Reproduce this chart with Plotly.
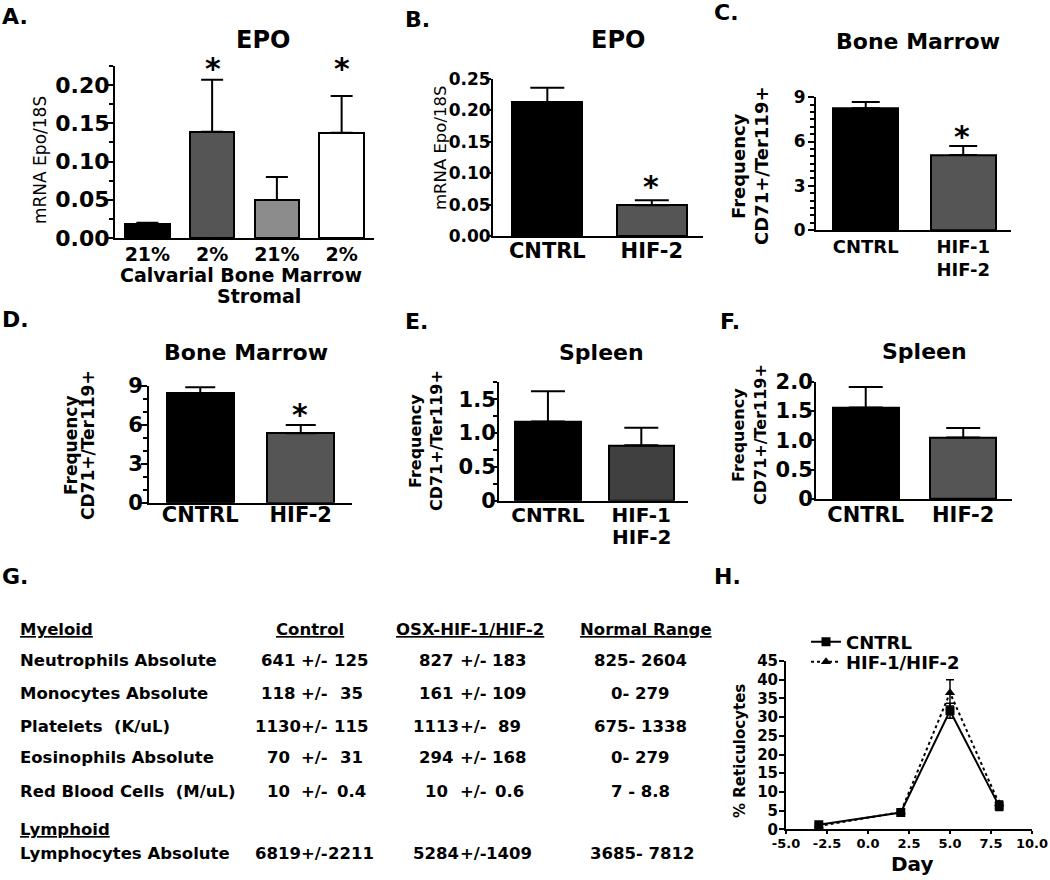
import plotly.graph_objects as go

W, H = 1050, 880
FONT = "DejaVu Sans"

# ---------------- data ----------------
a_labels = ["21%", "2%", "21%", "2%"]
a_vals = [0.018, 0.139, 0.0497, 0.1376]
a_err = [0.002, 0.068, 0.030, 0.048]
a_colors = ["#000000", "#555555", "#8c8c8c", "#ffffff"]

b_labels = ["CNTRL", "HIF-2"]
b_vals = [0.213, 0.049]
b_err = [0.023, 0.008]

c_labels = ["CNTRL", "HIF-1<br>HIF-2"]
c_vals = [8.25, 5.09]
c_err = [0.43, 0.61]

d_labels = ["CNTRL", "HIF-2"]
d_vals = [8.44, 5.35]
d_err = [0.46, 0.64]

e_labels = ["CNTRL", "HIF-1<br>HIF-2"]
e_vals = [1.17, 0.82]
e_err = [0.45, 0.26]

f_labels = ["CNTRL", "HIF-2"]
f_vals = [1.56, 1.05]
f_err = [0.35, 0.16]

spleen_e_ticks = [0, 0.5, 1.0, 1.5]
spleen_e_ticktext = ["0", "0.5", "1.0", "1.5"]
spleen_f_ticks = [0, 0.5, 1.0, 1.5, 2.0]
spleen_f_ticktext = ["0", "0.5", "1.0", "1.5", "2.0"]

h_days = [-3, 2, 5, 8]
h_cntrl = [1.2, 4.5, 31.7, 6.2]
h_cntrl_err = [0.3, 0.6, 2.0, 1.2]
h_hif = [0.9, 4.6, 36.5, 6.8]
h_hif_err = [0.3, 0.5, 3.5, 0.8]
h_xticks = [-5, -2.5, 0, 2.5, 5, 7.5, 10]
h_xticktext = ["-5.0", "-2.5", "0.0", "2.5", "5.0", "7.5", "10.0"]

g_rows = ["Neutrophils Absolute", "Monocytes Absolute", "Platelets  (K/uL)",
          "Eosinophils Absolute", "Red Blood Cells  (M/uL)"]
g_ctrl_mean = ["641", "118", "1130", "70", "10"]
g_ctrl_sd = ["125", "35", "115", "31", "0.4"]
g_osx_mean = ["827", "161", "1113", "294", "10"]
g_osx_sd = ["183", "109", "89", "168", "0.6"]
g_normal = ["825- 2604", "0- 279", "675- 1338", "0- 279", "7 - 8.8"]
g_lymph_row = "Lymphocytes Absolute"
g_lymph = ["6819", "2211", "5284", "1409", "3685- 7812"]


def px(x):
    return x / W


def py(y):
    return 1 - y / H


fig = go.Figure()
annotations = []


def ann(text, x, y, size, bold=True, xanchor="center", yanchor="middle", angle=0):
    t = f"<b>{text}</b>" if bold else text
    annotations.append(dict(text=t, x=px(x), y=py(y), xref="paper", yref="paper",
                            xanchor=xanchor, yanchor=yanchor, showarrow=False,
                            textangle=angle, font=dict(family=FONT, size=size, color="black")))


def bar_panel(idx, labels, vals, errs, colors, xdom, ydom, xr, yr, width, capw,
              xfont, yfont, ytick=None, minor=None, tickvals=None, ticktext=None,
              tickformat=None, ticklen=6, standoff=0, xstandoff=0, split_lines=False, line_off=35):
    xa = "x" if idx == 1 else f"x{idx}"
    ya = "y" if idx == 1 else f"y{idx}"
    xs = list(range(len(vals)))
    fig.add_trace(go.Bar(
        x=xs, y=vals, width=width, xaxis=xa, yaxis=ya, showlegend=False,
        marker=dict(color=colors, line=dict(color="black", width=2)),
        error_y=dict(type="data", array=errs, arrayminus=[0] * len(vals), symmetric=False,
                     color="black", thickness=2, width=capw)))
    xkey = "xaxis" if idx == 1 else f"xaxis{idx}"
    ykey = "yaxis" if idx == 1 else f"yaxis{idx}"
    tick_labels = labels
    if split_lines:
        tick_labels = [lab.split("<br>")[0] for lab in labels]
        for i, lab in enumerate(labels):
            for k, line in enumerate(lab.split("<br>")[1:]):
                xpix = xdom[0] + (i - xr[0]) / (xr[1] - xr[0]) * (xdom[1] - xdom[0])
                ann(line, xpix, ydom[1] + line_off * (k + 1), xfont)
    xaxis = dict(domain=[px(xdom[0]), px(xdom[1])], range=xr, anchor=ya, automargin=False,
                 showline=True, linecolor="black", linewidth=2, showgrid=False, zeroline=False,
                 tickmode="array", tickvals=xs, ticktext=tick_labels, ticks="",
                 ticklabelstandoff=xstandoff,
                 tickfont=dict(family=FONT, size=xfont, color="black", weight="bold"))
    yaxis = dict(domain=[py(ydom[1]), py(ydom[0])], range=yr, anchor=xa, automargin=False,
                 showline=True, linecolor="black", linewidth=2, showgrid=False, zeroline=False,
                 ticks="outside", ticklen=ticklen, tickwidth=2, tickcolor="black",
                 ticklabelstandoff=standoff,
                 tickfont=dict(family=FONT, size=yfont, color="black", weight="bold"))
    if tickvals is not None:
        yaxis.update(tickmode="array", tickvals=tickvals, ticktext=ticktext)
    else:
        yaxis.update(tick0=0, dtick=ytick)
    if tickformat:
        yaxis["tickformat"] = tickformat
    if minor:
        yaxis["minor"] = dict(ticks="outside", ticklen=4, tickwidth=1.5, tickcolor="black", dtick=minor)
    fig.update_layout(**{xkey: xaxis, ykey: yaxis})


# Panel A
bar_panel(1, a_labels, a_vals, a_err, a_colors, (115, 374), (66, 238), [-0.5, 3.5], [0, 0.225],
          0.69, 11, 19, 22, ytick=0.05, minor=0.025, tickformat=".2f", ticklen=7, standoff=-8,
          xstandoff=-2)
# Panel B
bar_panel(2, b_labels, b_vals, b_err, ["#000000", "#555555"], (493, 703), (79, 236), [-0.52, 1.49],
          [0, 0.25], 0.67, 17, 21, 17, ytick=0.05, tickformat=".2f", ticklen=4, standoff=-7,
          xstandoff=-5)
# Panel C
bar_panel(3, c_labels, c_vals, c_err, ["#000000", "#555555"], (816, 1011), (97.3, 230), [-0.51, 1.49],
          [0, 9], 0.67, 14, 18, 17, ytick=3, minor=0.5, ticklen=6, standoff=-1, xstandoff=-1)
# Panel D
bar_panel(4, d_labels, d_vals, d_err, ["#000000", "#555555"], (149, 352), (386, 502.7), [-0.51, 1.51],
          [0, 9], 0.67, 15, 21, 21, ytick=3, minor=1, ticklen=6, standoff=-6, xstandoff=-8)
# Panel E
bar_panel(5, e_labels, e_vals, e_err, ["#000000", "#404040"], (499, 688), (381.7, 500.7), [-0.524, 1.5],
          [0, 1.76], 0.7, 17, 20, 21, tickvals=spleen_e_ticks, ticktext=spleen_e_ticktext, minor=0.25,
          ticklen=6, standoff=-9, xstandoff=-5, split_lines=True, line_off=36)
# Panel F
bar_panel(6, f_labels, f_vals, f_err, ["#000000", "#555555"], (816, 1012), (381.7, 499), [-0.51, 1.5],
          [0, 2], 0.68, 17, 21, 21, tickvals=spleen_f_ticks, ticktext=spleen_f_ticktext,
          ticklen=6, standoff=-9, xstandoff=-4)

# Panel H
fig.add_trace(go.Scatter(x=h_days, y=h_cntrl, name="CNTRL", mode="lines+markers", xaxis="x7", yaxis="y7",
                         legend="legend",
                         line=dict(color="black", width=2),
                         marker=dict(symbol="square", size=9, color="black"),
                         error_y=dict(type="data", array=h_cntrl_err, color="black", thickness=1.5, width=4)))
fig.add_trace(go.Scatter(x=h_days, y=h_hif, name="HIF-1/HIF-2", mode="lines+markers", xaxis="x7", yaxis="y7",
                         legend="legend2",
                         line=dict(color="black", width=2, dash="dot"),
                         marker=dict(symbol="triangle-up", size=9, color="black"),
                         error_y=dict(type="data", array=h_hif_err, color="black", thickness=1.5, width=4)))
fig.update_layout(
    xaxis7=dict(domain=[px(786), px(1032)], range=[-5, 10], anchor="y7",
                tickmode="array", tickvals=h_xticks, ticktext=h_xticktext,
                automargin=False, ticklabelstandoff=-2, ticklabeloverflow="allow",
                showline=True, linecolor="black", linewidth=2, showgrid=False,
                zeroline=False, ticks="outside", ticklen=3, tickwidth=2, tickcolor="black",
                tickfont=dict(family=FONT, size=13, color="black", weight="bold")),
    yaxis7=dict(domain=[py(829.3), py(661)], range=[0, 45], anchor="x7", tick0=0, dtick=5,
                automargin=False, ticklabelstandoff=-2,
                showline=True, linecolor="black", linewidth=2, showgrid=False, zeroline=False,
                ticks="outside", ticklen=5, tickwidth=2, tickcolor="black",
                tickfont=dict(family=FONT, size=15, color="black", weight="bold")),
)

# ---------------- text ----------------
for letter, x, y in [("A.", 0, 16), ("B.", 403, 19), ("C.", 712, 13), ("D.", 0, 319),
                     ("E.", 403, 321), ("F.", 718, 321), ("G.", 0, 576), ("H.", 712, 576)]:
    ann(letter, x, y, 22, xanchor="left")

ann("EPO", 263, 40, 24)
ann("EPO", 618, 40, 24)
ann("Bone Marrow", 918, 41, 22)
ann("Bone Marrow", 246, 352, 22)
ann("Spleen", 601, 352, 22)
ann("Spleen", 924, 351, 22)

ann("mRNA Epo/18S", 40, 160, 17, bold=False, angle=-90)
ann("mRNA Epo/18S", 440, 148, 16.5, bold=False, angle=-90)
for fx, cx, yc, sz in [(739, 762, 166, 18), (71, 88, 445, 17), (416, 437, 441, 16), (738, 760, 435, 16)]:
    ann("Frequency", fx, yc, sz, angle=-90)
    ann("CD71+/Ter119+", cx, yc, sz, angle=-90)
ann("% Reticulocytes", 740, 751, 15, angle=-90)
ann("Day", 912, 864, 20)

ann("Calvarial Bone Marrow", 241, 275, 19)
ann("Stromal", 259, 296, 19)

for x, y in [(213, 68), (342, 68), (651, 186), (962, 136), (300, 414)]:
    ann("*", x, y, 30)

TS = 16.5
ann("<u>Myeloid</u>", 18, 629, TS, xanchor="left")
ann("<u>Control</u>", 310, 629, TS)
ann("<u>OSX-HIF-1/HIF-2</u>", 470, 629, TS)
ann("<u>Normal Range</u>", 646, 629, TS)
row_y = [660, 693, 726, 757, 791]
for i, y in enumerate(row_y):
    ann(g_rows[i], 18, y, TS, xanchor="left")
    ann(g_ctrl_mean[i], 278, y, TS)
    ann("+/-", 314, y, TS)
    ann(g_ctrl_sd[i], 351, y, TS)
    ann(g_osx_mean[i], 436, y, TS)
    ann("+/-", 473, y, TS)
    ann(g_osx_sd[i], 509, y, TS)
    ann(g_normal[i], 640, y, TS)
ann("<u>Lymphoid</u>", 18, 829, TS, xanchor="left")
ann(g_lymph_row, 18, 853, TS, xanchor="left")
ann(g_lymph[0], 278, 853, TS)
ann("+/-", 314, 853, TS)
ann(g_lymph[1], 351, 853, TS)
ann(g_lymph[2], 436, 853, TS)
ann("+/-", 473, 853, TS)
ann(g_lymph[3], 509, 853, TS)
ann(g_lymph[4], 642, 853, TS)

leg_common = dict(xanchor="left", yanchor="middle", bgcolor="rgba(0,0,0,0)", borderwidth=0,
                  font=dict(family=FONT, size=18, color="black", weight="bold"),
                  itemwidth=30, tracegroupgap=0)
fig.update_layout(
    width=W, height=H, autosize=False,
    margin=dict(l=0, r=0, t=0, b=0, pad=0),
    paper_bgcolor="white", plot_bgcolor="white",
    font=dict(family=FONT, color="black"),
    annotations=annotations,
    showlegend=True,
    legend=dict(x=px(806), y=py(642), **leg_common),
    legend2=dict(x=px(806), y=py(662), **leg_common),
    bargap=0,
)

fig.write_html("out.html", config={"displayModeBar": False},
               post_script="document.body.style.margin='0';")
